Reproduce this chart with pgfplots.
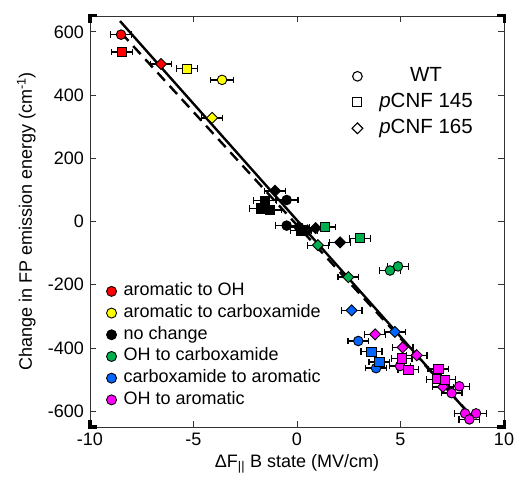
\documentclass[border=0pt]{standalone}
\usepackage{pgfplots}
\pgfplotsset{compat=1.18}
\usepackage{fontspec}
\setmainfont{Liberation Sans}
\definecolor{cred}{RGB}{255,0,0}
\definecolor{cyel}{RGB}{255,255,0}
\definecolor{cgrn}{RGB}{0,176,80}
\definecolor{cblu}{RGB}{0,102,255}
\definecolor{cmag}{RGB}{255,0,255}
\pgfplotsset{
  eb/.style={only marks, forget plot,
    error bars/x dir=both, error bars/x explicit,
    error bars/error mark=|,
    error bars/error bar style={line width=1.4bp, black},
    error bars/error mark options={line width=1.4bp, black, mark size=3.3bp}},
  C/.style={eb, mark=*, mark size=4.8bp, mark options={draw=black, fill=#1, line width=0.9bp}},
  S/.style={eb, mark=square*, mark size=4.6bp, mark options={draw=black, fill=#1, line width=0.9bp}},
  D/.style={eb, mark=square*, mark size=3.9bp, mark options={draw=black, fill=#1, line width=0.9bp, rotate=45}},
  lg/.style={legend image code/.code={\draw[mark=*, mark size=5bp, mark options={fill=#1, draw=black, line width=0.9bp}] plot coordinates {(0bp,0bp)};}},
}
\begin{document}
\fontsize{18bp}{21bp}\selectfont
\begin{tikzpicture}
\begin{axis}[
  name=main,
  scale only axis, width=414bp, height=411bp,
  xmin=-10, xmax=10, ymin=-650, ymax=650,
  xtick={-10,-5,0,5,10}, ytick={-600,-400,-200,0,200,400,600},
  tick align=inside, major tick length=6bp,
  axis line style={line width=0.8bp, black!80},
  every tick/.style={line width=0.8bp, black!80},
  /pgf/number format/assume math mode=true,
  xlabel={ΔF\textsubscript{||} B state (MV/cm)},
  ylabel={Change in FP emission energy (cm\textsuperscript{-1})},
  xlabel style={yshift=4bp},
  ylabel style={yshift=0bp},
  legend style={draw=none, fill=none, at={(0.040,0.198)}, anchor=west,
    inner sep=0pt, outer sep=0pt, row sep=3.7bp,
    nodes={inner sep=0.5bp, text height=13bp, text depth=4bp, anchor=west},
    /tikz/every odd column/.append style={column sep=6.5bp}},
  legend cell align=left,
]
\addlegendimage{lg=cred}
\addlegendimage{lg=cyel}
\addlegendimage{lg=black}
\addlegendimage{lg=cgrn}
\addlegendimage{lg=cblu}
\addlegendimage{lg=cmag}
\legend{aromatic to OH, aromatic to carboxamide, no change, OH to carboxamide, carboxamide to aromatic, OH to aromatic}

% fit lines
\addplot[forget plot, black, line width=2.4bp] coordinates {(-8.55,634) (8.36,-612)};
\addplot[forget plot, black, line width=2.4bp, dash pattern=on 11bp off 7bp] coordinates {(-8.5,597) (8.3,-606)};

% red: aromatic to OH
\addplot[C=cred] table[row sep=\\, x error=e] {x y e\\ -8.50 591 0.5\\};
\addplot[S=cred] table[row sep=\\, x error=e] {x y e\\ -8.45 536 0.5\\};
\addplot[D=cred] table[row sep=\\, x error=e] {x y e\\ -6.57 498 0.5\\};
% yellow: aromatic to carboxamide
\addplot[S=cyel] table[row sep=\\, x error=e] {x y e\\ -5.31 483 0.5\\};
\addplot[C=cyel] table[row sep=\\, x error=e] {x y e\\ -3.62 448 0.55\\};
\addplot[D=cyel] table[row sep=\\, x error=e] {x y e\\ -4.10 328 0.5\\};
% black: no change
\addplot[S=black] table[row sep=\\, x error=e] {x y e\\ -1.75 41 0.55\\ -1.55 66 0.55\\ -1.30 36 0.55\\ 0.20 -28 0.5\\};
\addplot[C=black] table[row sep=\\, x error=e] {x y e\\ -0.50 68 0.55\\ -0.50 -13 0.55\\ 0.10 -18 0.5\\};
\addplot[D=black] table[row sep=\\, x error=e] {x y e\\ -1.06 97 0.5\\ 0.50 -28 0.5\\ 0.90 -21 0.5\\ 2.08 -66 0.5\\};
% green: OH to carboxamide
\addplot[S=cgrn] table[row sep=\\, x error=e] {x y e\\ 1.35 -18 0.5\\ 3.05 -53 0.5\\};
\addplot[D=cgrn] table[row sep=\\, x error=e] {x y e\\ 1.01 -75 0.5\\ 2.48 -176 0.5\\};
\addplot[C=cgrn] table[row sep=\\, x error=e] {x y e\\ 4.49 -155 0.5\\ 4.88 -142 0.5\\};
% blue: carboxamide to aromatic
\addplot[D=cblu] table[row sep=\\, x error=e] {x y e\\ 2.64 -281 0.5\\ 4.73 -349 0.5\\};
\addplot[C=cblu] table[row sep=\\, x error=e] {x y e\\ 2.96 -378 0.5\\ 3.82 -464 0.5\\};
\addplot[S=cblu] table[row sep=\\, x error=e] {x y e\\ 3.60 -412 0.5\\ 3.98 -444 0.5\\};
% magenta: OH to aromatic
\addplot[C=cmag] table[row sep=\\, x error=e] {x y e\\ 4.98 -457 0.5\\ 7.84 -521 0.5\\ 7.47 -543 0.5\\ 8.12 -607 0.5\\ 8.65 -607 0.5\\ 8.33 -626 0.5\\};
\addplot[D=cmag] table[row sep=\\, x error=e] {x y e\\ 3.77 -357 0.5\\ 5.10 -398 0.5\\ 5.78 -423 0.5\\ 7.05 -523 0.5\\};
\addplot[S=cmag] table[row sep=\\, x error=e] {x y e\\ 5.06 -433 0.5\\ 5.38 -469 0.5\\ 6.83 -466 0.5\\ 6.75 -499 0.5\\ 7.15 -500 0.5\\};
\end{axis}

\begin{axis}[
  scale only axis, width=414bp, height=411bp, hide axis,
  xmin=-10, xmax=10, ymin=-650, ymax=650,
  legend style={draw=none, fill=none, at={(0.633,0.79)}, anchor=west,
    inner sep=0pt, outer sep=0pt, row sep=6.5bp,
    nodes={inner sep=0.5bp, text height=14bp, text depth=4.5bp, font=\fontsize{20.5bp}{24bp}\selectfont},
    /tikz/every odd column/.append style={column sep=16bp}},
  legend cell align=center,
]
\addlegendimage{legend image code/.code={\draw[mark=o, mark size=4.8bp, mark options={line width=1.1bp, draw=black}] plot coordinates {(0bp,0bp)};}}
\addlegendimage{legend image code/.code={\draw[mark=square, mark size=4.5bp, mark options={line width=1.1bp, draw=black}] plot coordinates {(0bp,0bp)};}}
\addlegendimage{legend image code/.code={\draw[mark=square, mark size=3.8bp, mark options={line width=1.1bp, draw=black, rotate=45}] plot coordinates {(0bp,0bp)};}}
\legend{WT, \textit{p}CNF 145, \textit{p}CNF 165}
\end{axis}

% corner marks
\draw[line width=3bp, black, line join=miter] ([yshift=7bp]main.south west) -- (main.south west) -- ([xshift=7bp]main.south west);
\draw[line width=3bp, black, line join=miter] ([yshift=7bp]main.south east) -- (main.south east) -- ([xshift=-7bp]main.south east);
\draw[line width=3bp, black, line join=miter] ([yshift=-7bp]main.north west) -- (main.north west) -- ([xshift=7bp]main.north west);
\draw[line width=3bp, black, line join=miter] ([yshift=-7bp]main.north east) -- (main.north east) -- ([xshift=-7bp]main.north east);
\pgfresetboundingbox
\path ([shift={(-90bp,-54bp)}]main.south west) rectangle ([shift={(12bp,16bp)}]main.north east);
\end{tikzpicture}
\end{document}
